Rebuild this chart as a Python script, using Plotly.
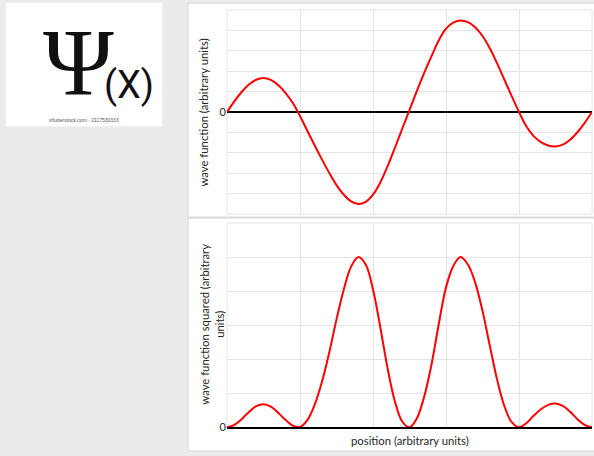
import plotly.graph_objects as go

# ---- data ----
position = [round(i * 0.1, 1) for i in range(51)]
psi = [0.00, 0.52, 0.98, 1.35, 1.58, 1.66, 1.57, 1.32, 0.94, 0.45,
       -0.20, -0.92, -1.63, -2.32, -2.98, -3.58, -4.05, -4.37, -4.50, -4.40,
       -4.05, -3.45, -2.65, -1.75, -0.82, 0.10, 1.02, 1.90, 2.72, 3.50,
       4.08, 4.38, 4.48, 4.40, 4.15, 3.72, 3.12, 2.38, 1.58, 0.78,
       0.00, -0.70, -1.18, -1.47, -1.64, -1.69, -1.60, -1.36, -0.99, -0.53,
       0.00]
psi_sq = [0.00, 0.07, 0.24, 0.45, 0.62, 0.68, 0.61, 0.43, 0.22, 0.05,
          0.01, 0.21, 0.66, 1.33, 2.19, 3.17, 4.05, 4.72, 5.00, 4.78,
          4.05, 2.94, 1.73, 0.76, 0.17, 0.00, 0.26, 0.89, 1.83, 3.02,
          4.11, 4.74, 5.00, 4.78, 4.25, 3.42, 2.40, 1.40, 0.62, 0.15,
          0.00, 0.12, 0.34, 0.53, 0.66, 0.70, 0.63, 0.46, 0.24, 0.07,
          0.00]
x_ticks = [0, 1, 2, 3, 4, 5]
y1_ticks = [-5, -4, -3, -2, -1, 0, 1, 2, 3, 4, 5]
y2_ticks = [0, 1, 2, 3, 4, 5, 6]

W, H = 594, 456
def fx(p): return p / W
def fy(p): return 1 - p / H

GRID = "#e4e4e4"
TXT = "#262626"
FONT = "Lato"

fig = go.Figure()
fig.add_trace(go.Scatter(x=position, y=psi, mode="lines",
                         line=dict(color="#ff0000", width=2, shape="spline", smoothing=1.0),
                         xaxis="x", yaxis="y", showlegend=False, hoverinfo="skip"))
fig.add_trace(go.Scatter(x=position, y=psi_sq, mode="lines",
                         line=dict(color="#ff0000", width=2, shape="spline", smoothing=1.0),
                         xaxis="x2", yaxis="y2", showlegend=False, hoverinfo="skip"))

xdom = [fx(227), fx(592)]
common_x = dict(range=[0, 5], tickvals=x_ticks, showticklabels=False, showgrid=True,
                gridcolor=GRID, gridwidth=1, zeroline=False, ticks="", fixedrange=True)
fig.update_layout(
    width=W, height=H, autosize=False,
    margin=dict(l=0, r=0, t=0, b=0),
    paper_bgcolor="#ebebeb", plot_bgcolor="rgba(0,0,0,0)",
    font=dict(family=FONT, size=11, color=TXT),
    xaxis=dict(domain=xdom, anchor="y", **common_x),
    yaxis=dict(domain=[fy(217), fy(10)], anchor="x", range=[-5, 5], tickvals=y1_ticks,
               ticktext=["0" if v == 0 else "" for v in y1_ticks],
               showgrid=True, gridcolor=GRID, gridwidth=1,
               zeroline=True, zerolinecolor="#000000", zerolinewidth=2, ticks="",
               tickfont=dict(size=11, color=TXT), fixedrange=True),
    xaxis2=dict(domain=xdom, anchor="y2", showline=True, linecolor="#000000", linewidth=2,
                **common_x),
    yaxis2=dict(domain=[fy(433), fy(226)], anchor="x2", range=[0, 6], tickvals=y2_ticks,
                ticktext=["0" if v == 0 else "" for v in y2_ticks],
                showgrid=True, gridcolor=GRID, gridwidth=1, zeroline=False, ticks="",
                tickfont=dict(size=11, color=TXT), fixedrange=True),
)

shapes = []
shapes.append(dict(type="rect", xref="paper", yref="paper", x0=fx(6), x1=fx(162), y0=fy(128), y1=fy(3),
                   fillcolor="white", line=dict(width=0), layer="below"))
shapes.append(dict(type="rect", xref="paper", yref="paper", x0=fx(188), x1=fx(595), y0=fy(220), y1=fy(3),
                   fillcolor="white", line=dict(color="#d6d6d6", width=1), layer="below"))
shapes.append(dict(type="rect", xref="paper", yref="paper", x0=fx(188), x1=fx(595), y0=fy(457), y1=fy(221),
                   fillcolor="white", line=dict(color="#d6d6d6", width=1), layer="below"))
shapes.append(dict(type="rect", xref="x domain", yref="y domain", x0=0, x1=1, y0=0, y1=1,
                   line=dict(color=GRID, width=1), layer="below"))
shapes.append(dict(type="rect", xref="x2 domain", yref="y2 domain", x0=0, x1=1, y0=0, y1=1,
                   line=dict(color=GRID, width=1), layer="below"))
fig.update_layout(shapes=shapes)

ann = []
ann.append(dict(text="Ψ", x=fx(78), y=fy(63), xref="paper", yref="paper", showarrow=False,
                font=dict(family="Liberation Serif", size=96, color="#111111"),
                xanchor="center", yanchor="middle"))
ann.append(dict(text="(X)", x=fx(129), y=fy(86), xref="paper", yref="paper", showarrow=False,
                font=dict(family="Roboto", size=38, color="#111111"),
                xanchor="center", yanchor="middle"))
ann.append(dict(text="shutterstock.com · 2117530333", x=fx(84), y=fy(122), xref="paper", yref="paper",
                showarrow=False, font=dict(family="Liberation Sans", size=5, color="#555555"),
                xanchor="center", yanchor="middle"))
ann.append(dict(text="wave function (arbitrary units)", x=fx(203), y=fy(114), xref="paper", yref="paper",
                showarrow=False, textangle=-90, font=dict(family=FONT, size=11.3, color=TXT),
                xanchor="center", yanchor="middle"))
ann.append(dict(text="wave function squared (arbitrary<br>units)", x=fx(212), y=fy(329),
                xref="paper", yref="paper", showarrow=False, textangle=-90,
                font=dict(family=FONT, size=11.3, color=TXT), xanchor="center", yanchor="middle"))
ann.append(dict(text="position (arbitrary units)", x=fx(409.5), y=fy(446), xref="paper", yref="paper",
                showarrow=False, font=dict(family=FONT, size=11.3, color=TXT),
                xanchor="center", yanchor="middle"))
fig.update_layout(annotations=ann)

fig.write_html("out.html", config={"displayModeBar": False},
               post_script="document.body.style.margin='0';document.body.style.overflow='hidden';")
